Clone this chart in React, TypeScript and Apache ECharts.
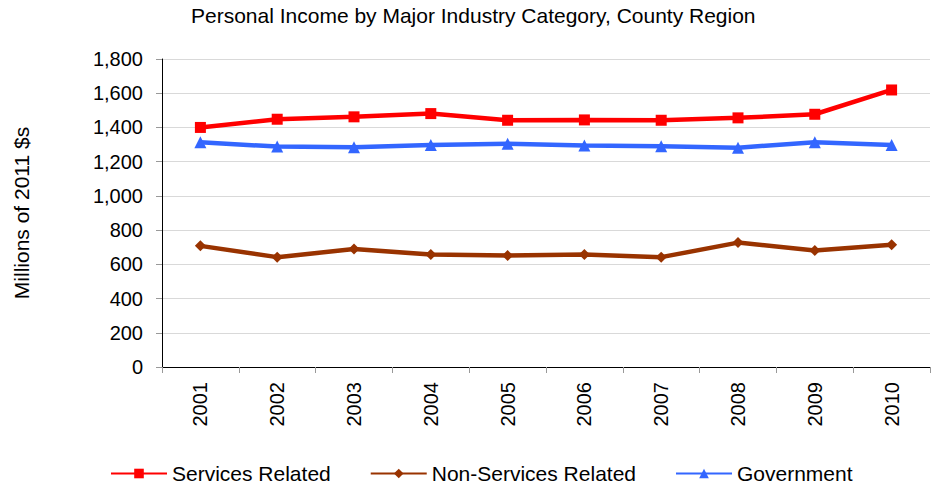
import React, { useEffect, useRef } from "react";
import * as echarts from "echarts";

const years = ["2001", "2002", "2003", "2004", "2005", "2006", "2007", "2008", "2009", "2010"];
const servicesRelated = [1400, 1448, 1462, 1481, 1442, 1444, 1442, 1456, 1477, 1619];
const nonServicesRelated = [708, 642, 689, 657, 651, 657, 642, 727, 681, 714];
const government = [1313, 1288, 1284, 1297, 1305, 1294, 1290, 1282, 1313, 1297];

const FONT = "Liberation Sans, Arial, sans-serif";

export default function App() {
  const ref = useRef<HTMLDivElement>(null);
  useEffect(() => {
    if (!ref.current) return;
    const chart = echarts.init(ref.current, undefined, { renderer: "svg" });
    chart.setOption({
      animation: false,
      backgroundColor: "#ffffff",
      textStyle: { fontFamily: FONT },
      title: {
        text: "Personal Income by Major Industry Category, County Region",
        left: 186,
        top: 0,
        textStyle: { fontFamily: FONT, fontSize: 21, fontWeight: "normal", color: "#000" },
      },
      grid: { left: 162, right: 1, top: 59, bottom: 120, containLabel: false },
      legend: {
        top: 458,
        left: 105,
        itemWidth: 56,
        itemHeight: 12,
        itemGap: 39,
        textStyle: { fontFamily: FONT, fontSize: 21, color: "#000" },
        data: ["Services Related", "Non-Services Related", "Government"],
      },
      xAxis: {
        type: "category",
        data: years,
        boundaryGap: true,
        axisLine: { lineStyle: { color: "#000", width: 1 } },
        axisTick: { show: true, alignWithLabel: false, length: 6, lineStyle: { color: "#999" } },
        axisLabel: { rotate: 90, fontSize: 20, color: "#000", margin: 15, fontFamily: FONT },
        splitLine: { show: false },
      },
      yAxis: {
        type: "value",
        min: 0,
        max: 1800,
        interval: 200,
        name: "Millions of 2011 $s",
        nameLocation: "middle",
        nameRotate: 90,
        nameGap: 130,
        nameTextStyle: { fontFamily: FONT, fontSize: 21, color: "#000" },
        axisLine: { show: true, lineStyle: { color: "#000", width: 1 } },
        axisTick: { show: true, length: 6, lineStyle: { color: "#999" } },
        axisLabel: {
          fontSize: 20,
          color: "#000",
          margin: 19,
          fontFamily: FONT,
          formatter: (v: number) => v.toLocaleString("en-US"),
        },
        splitLine: { show: true, lineStyle: { color: "#d9d9d9", width: 1 } },
      },
      series: [
        {
          name: "Services Related",
          type: "line",
          data: servicesRelated,
          symbol: "rect",
          symbolSize: 11,
          lineStyle: { color: "#ff0000", width: 4.5 },
          itemStyle: { color: "#ff0000" },
        },
        {
          name: "Non-Services Related",
          type: "line",
          data: nonServicesRelated,
          symbol: "diamond",
          symbolSize: 11,
          lineStyle: { color: "#993300", width: 4.5 },
          itemStyle: { color: "#993300" },
        },
        {
          name: "Government",
          type: "line",
          data: government,
          symbol: "triangle",
          symbolSize: 12,
          lineStyle: { color: "#3366ff", width: 4.5 },
          itemStyle: { color: "#3366ff" },
        },
      ],
    });
    return () => chart.dispose();
  }, []);
  return (
    <div
      ref={ref}
      style={{ position: "fixed", left: 0, top: 0, width: 931, height: 487, background: "#fff" }}
    />
  );
}
